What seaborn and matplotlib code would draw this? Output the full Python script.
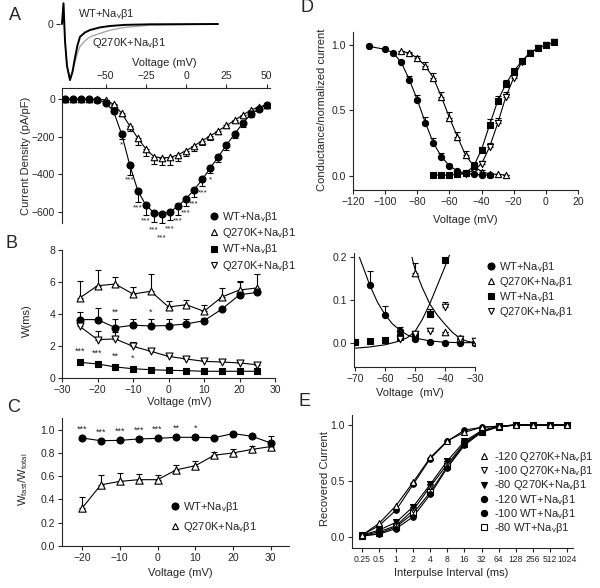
import numpy as np
import pandas as pd
import matplotlib
matplotlib.use("Agg")
import matplotlib.pyplot as plt
from matplotlib.lines import Line2D
import seaborn as sns

sns.set_style("ticks")
plt.rcParams['font.family'] = ['Liberation Sans', 'DejaVu Sans']
plt.rcParams['mathtext.fontset'] = 'custom'
plt.rcParams['mathtext.rm'] = 'Liberation Sans'
plt.rcParams['mathtext.it'] = 'Liberation Sans:italic'
plt.rcParams['axes.linewidth'] = 0.8

WT = r"WT+Na$_\mathrm{v}$β1"
Q = r"Q270K+Na$_\mathrm{v}$β1"

# ---- A: sample current traces (normalised) ----
trace_t = [0, 0.375, 0.75, 1.25, 2.0, 2.625, 3.25, 3.875, 4.5, 5.75, 7.0, 9.5, 12.0, 15.75, 22.0, 39.0]
trace_wt = [0, 0.37, -0.3, -0.75, -1.0, -0.85, -0.6, -0.38, -0.227, -0.15, -0.107, -0.06, -0.035, -0.015, -0.005, 0]
trace_q = [0, 0.37, -0.3, -0.75, -0.97, -0.87, -0.68, -0.52, -0.40, -0.30, -0.23, -0.166, -0.11, -0.06, -0.02, 0]

# ---- A: I-V ----
iv_v = [-75, -70, -65, -60, -55, -50, -45, -40, -35, -30, -25, -20, -15, -10, -5,
        0, 5, 10, 15, 20, 25, 30, 35, 40, 45, 50]
iv_wt = [0, 0, 0, 0, -2, -18, -65, -186, -350, -487, -565, -605, -610, -600, -570,
         -530, -482, -428, -366, -306, -244, -186, -129, -80, -53, -30]
iv_wt_err = [0, 0, 0, 0, 2, 5, 10, 25, 55, 60, 55, 50, 50, 45, 45,
             40, 40, 35, 30, 30, 25, 20, 20, 15, 8, 5]
iv_q = [0, 0, 0, 0, 0, -3, -27, -74, -142, -207, -265, -306, -313, -310, -296,
        -274, -248, -221, -195, -168, -140, -112, -85, -58, -41, -30]
iv_q_err = [0, 0, 0, 0, 0, 3, 5, 15, 30, 35, 40, 40, 40, 40, 35,
            30, 30, 25, 20, 15, 15, 12, 10, 10, 5, 5]
iv_stars = {-40: '*', -35: '***', -30: '***', -25: '***', -20: '***', -15: '***', -10: '***',
            -5: '***', 0: '***', 5: '***', 10: '***', 15: '*'}

# ---- B: time constants ----
tau_v = [-25, -20, -15, -10, -5, 0, 5, 10, 15, 20, 25]
tau_q_fast = [5.0, 5.77, 5.87, 5.25, 5.42, 4.44, 4.58, 4.17, 5.06, 5.5, 5.63]
tau_q_fast_err = [1.05, 1.0, 0.45, 0.45, 1.1, 0.35, 0.32, 0.4, 0.55, 0.5, 0.85]
tau_wt_fast = [3.65, 3.65, 3.15, 3.3, 3.25, 3.28, 3.38, 3.58, 4.3, 5.2, 5.35]
tau_wt_fast_err = [0.5, 0.7, 0.55, 0.4, 0.45, 0.4, 0.3, 0.15, 0.15, 0.85, 0.2]
tau_q_slow = [3.23, 2.4, 2.44, 1.98, 1.67, 1.35, 1.19, 1.04, 1.0, 0.94, 0.83]
tau_q_slow_err = [0.15, 0.55, 0.45, 0.3, 0.15, 0.1, 0.1, 0.1, 0.1, 0.1, 0.1]
tau_wt_slow = [0.98, 0.88, 0.69, 0.58, 0.52, 0.48, 0.46, 0.42, 0.42, 0.42, 0.42]
tau_wt_slow_err = [0.05] * 11
tau_stars_fast = {-15: '**', -5: '*'}
tau_stars_slow = {-25: '***', -20: '***', -15: '**', -10: '*'}

# ---- C: fraction fast ----
frac_v = [-20, -15, -10, -5, 0, 5, 10, 15, 20, 25, 30]
frac_wt = [0.928, 0.905, 0.908, 0.92, 0.925, 0.934, 0.934, 0.931, 0.966, 0.943, 0.885]
frac_wt_err = [0.01, 0.01, 0.01, 0.01, 0.01, 0.01, 0.01, 0.01, 0.01, 0.01, 0.06]
frac_q = [0.325, 0.526, 0.555, 0.57, 0.57, 0.655, 0.69, 0.78, 0.80, 0.83, 0.855]
frac_q_err = [0.095, 0.085, 0.075, 0.05, 0.04, 0.045, 0.04, 0.03, 0.03, 0.03, 0.02]
frac_stars = {-20: '***', -15: '***', -10: '***', -5: '***', 0: '***', 5: '**', 10: '*'}

# ---- D: activation / inactivation ----
inact_wt_v = [-110, -100, -95, -90, -85, -80, -75, -70, -65, -60, -55, -50, -45, -40, -35]
inact_wt = [0.99, 0.967, 0.94, 0.868, 0.736, 0.581, 0.406, 0.251, 0.145, 0.076, 0.035, 0.018, 0.01, 0.006, 0.004]
inact_wt_err = [0.01, 0.01, 0.01, 0.02, 0.03, 0.04, 0.04, 0.04, 0.03, 0.01, 0.005, 0, 0, 0, 0]
inact_q_v = [-90, -85, -80, -75, -70, -65, -60, -55, -50, -45, -40, -35, -30, -25]
inact_q = [0.952, 0.94, 0.90, 0.84, 0.749, 0.604, 0.444, 0.297, 0.157, 0.076, 0.03, 0.013, 0.01, 0.005]
inact_q_err = [0.005, 0.01, 0.02, 0.03, 0.04, 0.04, 0.04, 0.035, 0.035, 0.03, 0.01, 0.005, 0, 0]
act_wt_v = [-70, -65, -60, -55, -50, -45, -40, -35, -30, -25, -20, -15, -10, -5, 0, 5]
act_wt = [0.005, 0.005, 0.005, 0.01, 0.02, 0.07, 0.20, 0.39, 0.57, 0.70, 0.80, 0.875, 0.94, 0.975, 1.0, 1.02]
act_wt_err = [0, 0, 0, 0, 0, 0.01, 0.02, 0.04, 0.04, 0.03, 0.02, 0.01, 0.01, 0.01, 0.01, 0.01]
act_q_v = [-55, -50, -45, -40, -35, -30, -25, -20, -15, -10, -5, 0, 5]
act_q = [0.01, 0.015, 0.04, 0.09, 0.22, 0.40, 0.60, 0.75, 0.87, 0.94, 0.975, 1.0, 1.02]
act_q_err = [0, 0, 0.01, 0.02, 0.03, 0.04, 0.04, 0.03, 0.02, 0.01, 0.01, 0.01, 0.01]

# ---- D inset: window current ----
win_v = [-70, -65, -60, -55, -50, -45, -40, -35, -30]
win_wt_inact = [0.002, 0.134, 0.065, 0.027, 0.008, 0.002, 0.0, 0.0, 0.0]
win_wt_inact_err = [0, 0.035, 0.022, 0.01, 0, 0, 0, 0, 0]
win_q_inact_v = [-50, -45, -40, -35, -30]
win_q_inact = [0.163, 0.07, 0.026, 0.01, 0.002]
win_q_inact_err = [0.023, 0.01, 0, 0, 0]
win_wt_act_v = [-70, -65, -60, -55, -50, -45, -40]
win_wt_act = [0.002, 0.004, 0.006, 0.014, 0.02, 0.067, 0.194]
win_q_act_v = [-55, -50, -45, -40, -35, -30]
win_q_act = [0.008, 0.02, 0.028, 0.084, 0.008, 0.004]
win_q_act_err = [0, 0, 0, 0.012, 0, 0]
fit_wt_inact_v = [-68.5, -67, -65, -62.5, -60, -57.5, -55, -52.5, -50, -45, -40, -35, -30]
fit_wt_inact = [0.2, 0.172, 0.134, 0.095, 0.066, 0.044, 0.029, 0.018, 0.011, 0.004, 0.001, 0.0, 0.0]
fit_q_inact_v = [-51, -50, -47.5, -45, -42.5, -40, -37.5, -35, -32.5, -30]
fit_q_inact = [0.2, 0.172, 0.128, 0.09, 0.064, 0.043, 0.024, 0.01, 0.003, 0.0]
fit_act_v = [-70, -65, -60, -55, -52.5, -50, -47.5, -45, -42.5, -40, -38.5]
fit_act = [-0.013, -0.01, -0.005, 0.004, 0.012, 0.026, 0.055, 0.092, 0.135, 0.178, 0.205]

# ---- E: recovery ----
rec_t = [0.25, 0.5, 1, 2, 4, 8, 16, 32, 64, 128, 256, 512, 1024]
rec_labels = ['0.25', '0.5', '1', '2', '4', '8', '16', '32', '64', '128', '256', '512', '1024']
rec_q120 = [0.015, 0.12, 0.28, 0.49, 0.71, 0.86, 0.935, 0.98, 0.99, 1.0, 1.0, 1.0, 1.0]
rec_q100 = [0.01, 0.045, 0.10, 0.24, 0.45, 0.65, 0.84, 0.945, 0.99, 1.0, 1.0, 1.0, 1.0]
rec_q80 = [0.015, 0.06, 0.13, 0.27, 0.47, 0.68, 0.855, 0.95, 0.99, 1.0, 1.0, 1.0, 1.0]
rec_wt120 = [0.015, 0.10, 0.24, 0.47, 0.70, 0.855, 0.955, 0.98, 0.99, 1.0, 1.0, 1.0, 1.0]
rec_wt100 = [0.01, 0.024, 0.074, 0.18, 0.38, 0.62, 0.82, 0.935, 0.985, 1.0, 1.0, 1.0, 1.0]
rec_wt80 = [0.005, 0.03, 0.09, 0.21, 0.40, 0.63, 0.83, 0.94, 0.985, 1.0, 1.0, 1.0, 1.0]

W, H = 600, 588
fig = plt.figure(figsize=(6, 5.88), dpi=100)


def rect(l, t, r, b):
    return [l / W, 1 - b / H, (r - l) / W, (b - t) / H]


def fpos(x, y):
    return (x / W, 1 - y / H)


def series(ax, x, y, marker, face, err=None, down=False, s=25, line=True, lw=0.8):
    if line:
        sns.lineplot(x=x, y=y, ax=ax, color='k', lw=lw, sort=False, zorder=1)
    if err is not None:
        zero = [0] * len(err)
        yerr = [err, zero] if down else [zero, err]
        ax.errorbar(x, y, yerr=yerr, fmt='none', ecolor='k', elinewidth=0.8,
                    capsize=2.2, capthick=0.8, zorder=2)
    sns.scatterplot(x=x, y=y, ax=ax, marker=marker, s=s, color=face,
                    edgecolor='k', linewidth=0.8, zorder=3, legend=False)


def handle(marker, face, ms=5):
    return Line2D([], [], ls='none', marker=marker, mfc=face, mec='k', mew=0.8, ms=ms)


def style(ax, size=7.5):
    ax.tick_params(labelsize=size, length=3, width=0.8, pad=2)


def stars(ax, xs, ys, errs, marks, up=True, off=1.5):
    for x, y, e in zip(xs, ys, errs):
        if x in marks:
            if up:
                ax.annotate(marks[x], (x, y + e), xytext=(0, off), textcoords='offset points',
                            ha='center', va='bottom', fontsize=6.5, annotation_clip=False)
            else:
                ax.annotate(marks[x], (x, y - e), xytext=(0, -off), textcoords='offset points',
                            ha='center', va='top', fontsize=6.5, annotation_clip=False)


# ===== A trace =====
axT = fig.add_axes(rect(60, 2, 220, 84))
sns.lineplot(x=trace_t, y=trace_q, ax=axT, color='#a0a0a0', lw=0.9, sort=False)
sns.lineplot(x=trace_t, y=trace_wt, ax=axT, color='k', lw=1.4, sort=False)
axT.set_xlim(-0.5, 39.5)
axT.set_ylim(-1.07, 0.393)
for sp in axT.spines.values():
    sp.set_visible(False)
axT.set_xticks([])
axT.set_yticks([0])
axT.set_yticklabels(['0'])
style(axT)
axT.text(4, 0.18, WT, fontsize=8, va='center')
axT.text(7.5, -0.34, Q, fontsize=8, va='center')

# ===== A I-V =====
axA = fig.add_axes(rect(62, 88, 270, 223))
series(axA, iv_v, iv_q, '^', 'white', iv_q_err, down=True, s=22)
series(axA, iv_v, iv_wt, 'o', 'k', iv_wt_err, down=True, s=25)
# star drop below each point (pixels), staggered as in the figure
star_drop = {-40: 9, -35: 13, -30: 15, -25: 14, -20: 15, -15: 22, -10: 15.5,
             -5: 12.5, 0: 12.5, 5: 12, 10: 11, 15: 10}
for v, y in zip(iv_v, iv_wt):
    if v in iv_stars:
        axA.annotate(iv_stars[v], (v, y), xytext=(0, -star_drop[v] * 0.72 - 1.5),
                     textcoords='offset points', ha='center', va='center',
                     fontsize=6, annotation_clip=False)
axA.set_xlim(-77, 52)
axA.set_ylim(-660, 60)
axA.xaxis.tick_top()
axA.xaxis.set_label_position('top')
axA.spines['bottom'].set_visible(False)
axA.spines['right'].set_visible(False)
axA.set_xticks([-50, -25, 0, 25, 50])
axA.set_yticks([0, -200, -400, -600])
axA.set_xlabel('Voltage (mV)', fontsize=8)
axA.set_ylabel('Current Density (pA/pF)', fontsize=8)
axA.xaxis.set_label_coords(0.49, 1.16)
axA.yaxis.set_label_coords(-(62 - 31) / 208, 0.5)
style(axA)

# ===== B =====
axB = fig.add_axes(rect(62, 250, 275, 378))
series(axB, tau_v, tau_q_fast, '^', 'white', tau_q_fast_err, s=25)
series(axB, tau_v, tau_wt_fast, 'o', 'k', tau_wt_fast_err, s=25)
series(axB, tau_v, tau_q_slow, 'v', 'white', tau_q_slow_err, s=25)
series(axB, tau_v, tau_wt_slow, 's', 'k', tau_wt_slow_err, s=22)
stars(axB, tau_v, tau_wt_fast, tau_wt_fast_err, tau_stars_fast)
stars(axB, tau_v, tau_wt_slow, tau_wt_slow_err, tau_stars_slow, off=4)
axB.set_xlim(-30, 30)
axB.set_ylim(0, 8)
axB.set_xticks([-30, -20, -10, 0, 10, 20, 30])
axB.set_yticks([0, 2, 4, 6, 8])
axB.set_xlabel('Voltage (mV)', fontsize=8)
axB.set_ylabel('W(ms)', fontsize=8)
axB.xaxis.set_label_coords(0.55, -0.15)
axB.yaxis.set_label_coords(-(62 - 32) / 213, 0.45)
sns.despine(ax=axB)
style(axB)
axB.legend([handle('o', 'k'), handle('^', 'white'), handle('s', 'k'), handle('v', 'white')],
           [WT, Q, WT, Q], loc='upper left', bbox_to_anchor=fpos(210, 210),
           bbox_transform=fig.transFigure, frameon=False, fontsize=8, borderpad=0,
           borderaxespad=0, handlelength=0.8, handletextpad=0.25, labelspacing=0.2)

# ===== C =====
axC = fig.add_axes(rect(62, 418, 289, 546))
series(axC, frac_v, frac_q, '^', 'white', frac_q_err, s=28)
series(axC, frac_v, frac_wt, 'o', 'k', frac_wt_err, s=25)
stars(axC, frac_v, frac_wt, [0] * 11, frac_stars, off=3)
axC.set_xlim(-25.3, 34.8)
axC.set_ylim(0, 1.1)
axC.set_xticks([-20, -10, 0, 10, 20, 30])
axC.set_yticks([0.0, 0.2, 0.4, 0.6, 0.8, 1.0])
axC.set_yticklabels(['0.0', '0.2', '0.4', '0.6', '0.8', '1.0'])
axC.set_xlabel('Voltage (mV)', fontsize=8)
axC.set_ylabel(r'W$_\mathrm{fast}$/W$_\mathrm{total}$', fontsize=8)
axC.xaxis.set_label_coords(0.52, -0.17)
axC.yaxis.set_label_coords(-(62 - 30) / 227, 0.52)
sns.despine(ax=axC)
style(axC)
axC.legend([handle('o', 'k'), handle('^', 'white')], [WT, Q], loc='upper left',
           bbox_to_anchor=fpos(171, 500), bbox_transform=fig.transFigure, frameon=False,
           fontsize=8, borderpad=0, borderaxespad=0, handlelength=0.8,
           handletextpad=0.25, labelspacing=0.55)

# ===== D =====
axD = fig.add_axes(rect(353, 32, 578, 190))
series(axD, inact_q_v, inact_q, '^', 'white', inact_q_err, s=20)
series(axD, act_q_v, act_q, 'v', 'white', act_q_err, s=20)
series(axD, act_wt_v, act_wt, 's', 'k', act_wt_err, s=18)
series(axD, inact_wt_v, inact_wt, 'o', 'k', inact_wt_err, s=20)
axD.set_xlim(-120, 20)
axD.set_ylim(-0.11, 1.1)
axD.set_xticks([-120, -100, -80, -60, -40, -20, 0, 20])
axD.set_yticks([0.0, 0.5, 1.0])
axD.set_yticklabels(['0.0', '0.5', '1.0'])
axD.set_xlabel('Voltage (mV)', fontsize=8)
axD.set_ylabel('Conductance/normalized current', fontsize=8)
axD.xaxis.set_label_coords(0.5, -0.16)
axD.yaxis.set_label_coords(-(353 - 327) / 225, 0.506)
sns.despine(ax=axD)
style(axD)

# ===== D inset =====
axI = fig.add_axes(rect(354, 253, 475, 367))
sns.lineplot(x=fit_wt_inact_v, y=fit_wt_inact, ax=axI, color='k', lw=0.8, sort=False)
sns.lineplot(x=fit_q_inact_v, y=fit_q_inact, ax=axI, color='k', lw=0.8, sort=False)
sns.lineplot(x=fit_act_v, y=fit_act, ax=axI, color='k', lw=0.8, sort=False)
series(axI, win_v, win_wt_inact, 'o', 'k', win_wt_inact_err, s=20, line=False)
series(axI, win_q_inact_v, win_q_inact, '^', 'white', win_q_inact_err, s=22, line=False)
series(axI, win_wt_act_v, win_wt_act, 's', 'k', None, s=20, line=False)
series(axI, win_q_act_v, win_q_act, 'v', 'white', win_q_act_err, s=22, line=False)
axI.set_xlim(-70.3, -30)
axI.set_ylim(-0.057, 0.21)
axI.set_xticks([-70, -60, -50, -40, -30])
axI.set_yticks([0.0, 0.1, 0.2])
axI.set_yticklabels(['0.0', '0.1', '0.2'])
axI.set_xlabel('Voltage  (mV)', fontsize=8)
axI.xaxis.set_label_coords(0.46, -0.18)
sns.despine(ax=axI)
style(axI)
axI.legend([handle('o', 'k'), handle('^', 'white'), handle('s', 'k'), handle('v', 'white')],
           [WT, Q, WT, Q], loc='upper left', bbox_to_anchor=fpos(487, 260),
           bbox_transform=fig.transFigure, frameon=False, fontsize=8, borderpad=0,
           borderaxespad=0, handlelength=0.8, handletextpad=0.3, labelspacing=0.1)

# ===== E =====
axE = fig.add_axes(rect(352, 415, 573, 548))
series(axE, rec_t, rec_wt80, 's', 'white', s=16)
series(axE, rec_t, rec_q100, 'v', 'white', s=18)
series(axE, rec_t, rec_wt100, 'o', 'k', s=16)
series(axE, rec_t, rec_q80, 'v', 'k', s=18)
series(axE, rec_t, rec_wt120, 'o', 'k', s=16)
series(axE, rec_t, rec_q120, '^', 'white', s=18)
axE.set_xscale('log', base=2)
axE.set_xlim(0.167, 1305)
axE.set_ylim(-0.1, 1.09)
axE.set_xticks(rec_t)
axE.set_xticklabels(rec_labels)
axE.xaxis.set_minor_locator(matplotlib.ticker.NullLocator())
axE.set_yticks([0.0, 0.5, 1.0])
axE.set_yticklabels(['0.0', '0.5', '1.0'])
axE.set_xlabel('Interpulse Interval (ms)', fontsize=8)
axE.set_ylabel('Recovered Current', fontsize=8)
axE.xaxis.set_label_coords(0.45, -0.15)
axE.yaxis.set_label_coords(-(352 - 330) / 221, 0.52)
sns.despine(ax=axE)
style(axE)
axE.tick_params(axis='x', labelsize=6.2, pad=2)
axE.legend([handle('^', 'white', 4.5), handle('v', 'white', 4.5), handle('v', 'k', 4.5),
            handle('o', 'k', 4.5), handle('o', 'k', 4.5), handle('s', 'white', 4.5)],
           ['-120 ' + Q, '-100 ' + Q, '-80 ' + Q, '-120 ' + WT, '-100 ' + WT, '-80 ' + WT],
           loc='upper left', bbox_to_anchor=fpos(480, 450), bbox_transform=fig.transFigure,
           frameon=False, fontsize=8, borderpad=0, borderaxespad=0, handlelength=0.8,
           handletextpad=0.5, labelspacing=0.02)

# panel letters
for letter, (px, py) in zip('ABCDE', [(14.5, 15), (11.5, 244), (14, 408), (307, 7), (305, 402)]):
    fig.text(*fpos(px, py), letter, fontsize=13, ha='center', va='center')

fig.savefig('out.png', dpi=100)
